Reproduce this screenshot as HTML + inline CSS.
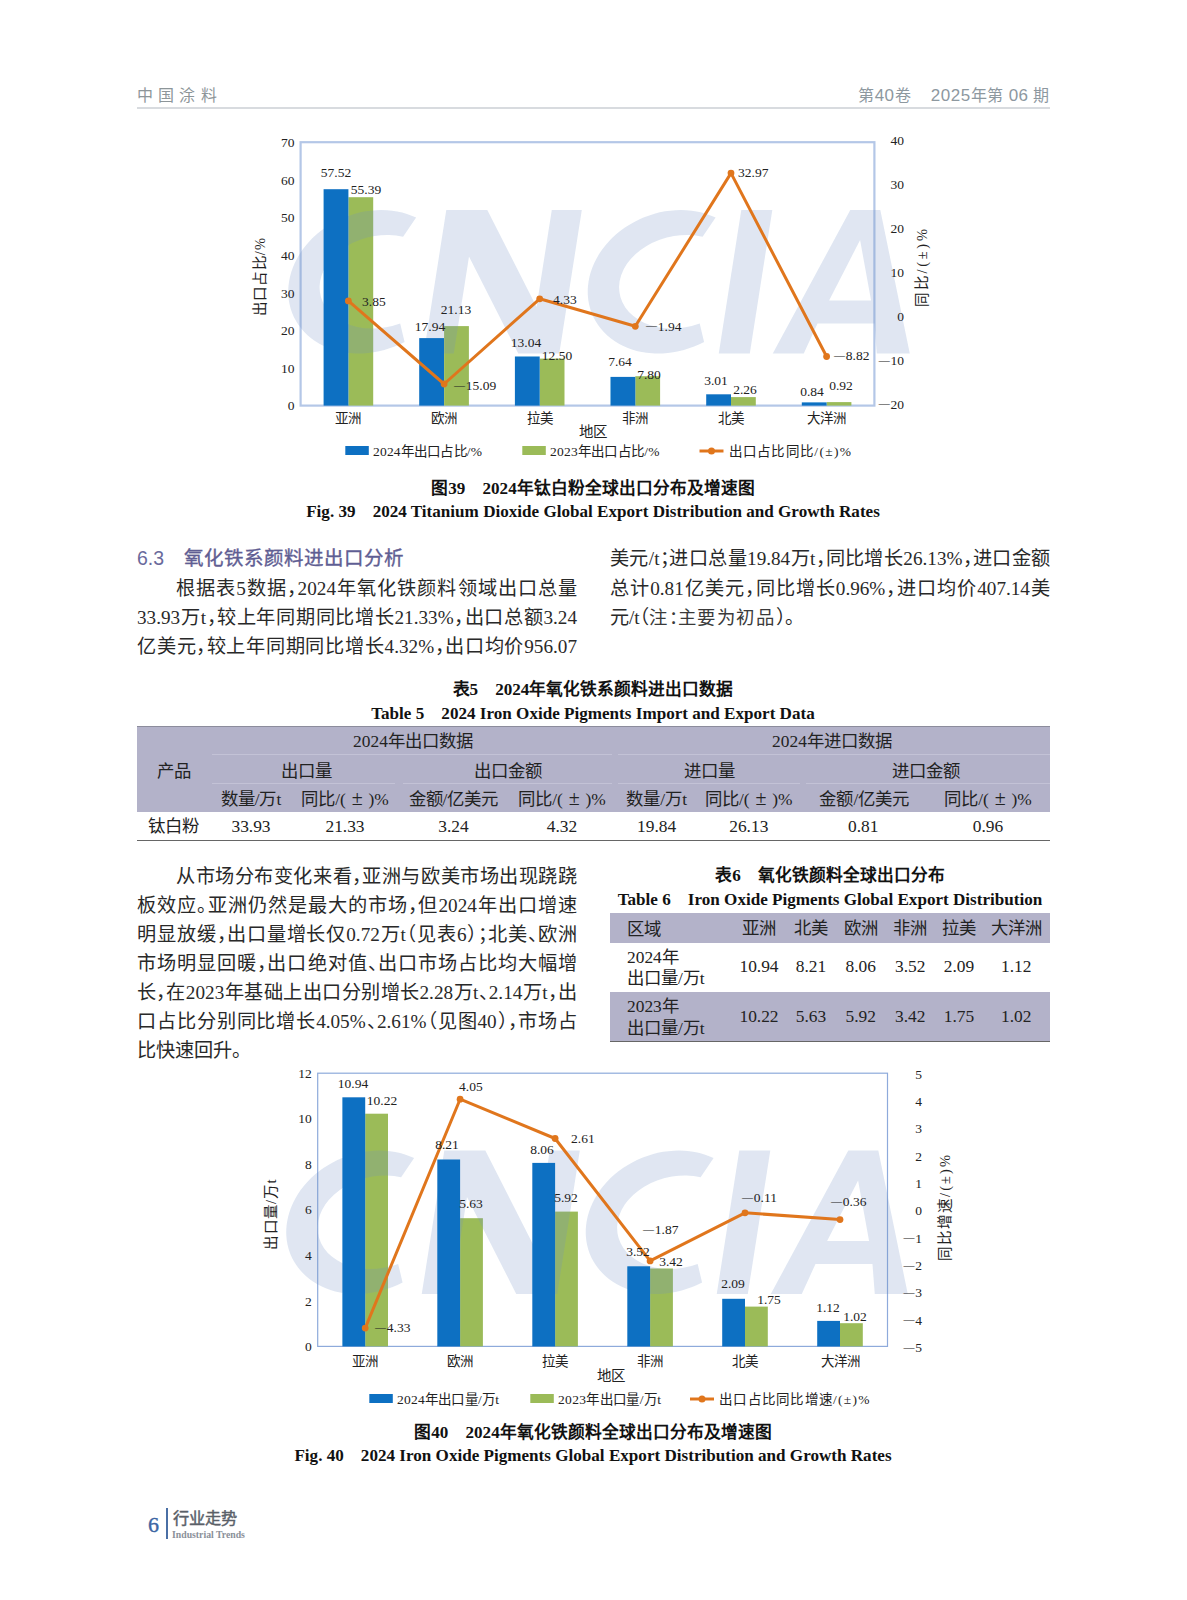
<!DOCTYPE html>
<html lang="zh-CN"><head><meta charset="utf-8"><title>page</title><style>
html,body{margin:0;padding:0;background:#fff;}
body{text-spacing-trim:space-all;width:1187px;height:1600px;position:relative;overflow:hidden;font-family:"Liberation Serif", serif;color:#1a1a1a;}
.t{position:absolute;white-space:nowrap;}
.j{position:absolute;white-space:nowrap;text-align:justify;text-align-last:justify;}
.body{font-size:19.2px;line-height:28px;color:#292929;}
.cap{font-weight:bold;font-size:17.1px;line-height:22px;color:#111;text-align:center;}
.capc{font-family:"Liberation Sans", sans-serif;font-weight:bold;font-size:16.7px;}
.hp{letter-spacing:-0.5em;}
.hl{margin-left:-0.5em;}
.tb{font-size:17.4px;line-height:24px;color:#222;text-align:center;transform:translateX(-50%);}
.tbl{font-size:17.4px;line-height:24px;color:#222;}
svg text{font-family:"Liberation Serif", serif;}
</style></head><body>
<div class="t" style="left:137px;top:84px;font-family:'Liberation Sans', sans-serif;font-size:16px;line-height:24px;letter-spacing:5.2px;color:#8d9599;">中国涂料</div>
<div class="t" style="right:137px;top:84px;font-family:'Liberation Sans', sans-serif;font-size:16px;line-height:24px;color:#8d989f;text-align:right;letter-spacing:0.5px;">第<span style="font-size:17px">40</span>卷&nbsp;&nbsp;&nbsp;&nbsp;<span style="font-size:17px">2025</span>年第 <span style="font-size:17px">06</span> 期</div>
<div style="position:absolute;left:137px;top:107.2px;width:913px;height:1.6px;background:#d8dbdf;"></div>
<div class="t cap" style="left:193.0px;top:477.6px;width:800px;"><span class="capc">图</span>39&nbsp;&nbsp;&nbsp;&nbsp;2024<span class="capc">年钛白粉全球出口分布及增速图</span></div>
<div class="t cap" style="left:193.0px;top:500.8px;width:800px;">Fig. 39&nbsp;&nbsp;&nbsp;&nbsp;2024 Titanium Dioxide Global Export Distribution and Growth Rates</div>
<div class="t " style="left:137.0px;top:544.0px;font-family:'Liberation Sans', sans-serif;font-size:19.5px;line-height:28px;color:#5f5e93;"><span style="font-size:19.5px;color:#6a6a9c">6.3</span><span style="margin-left:20px;-webkit-text-stroke:0.35px #5f5e93;">氧化铁系颜料进出口分析</span></div>
<div class="j body" style="left:176.0px;top:574.6px;width:401.0px;">根据表5数据<span class="hp">，</span>2024年氧化铁颜料领域出口总量</div>
<div class="j body" style="left:137.0px;top:603.5px;width:440.0px;">33.93万t<span class="hp">，</span>较上年同期同比增长21.33%<span class="hp">，</span>出口总额3.24</div>
<div class="j body" style="left:137.0px;top:632.5px;width:440.0px;">亿美元<span class="hp">，</span>较上年同期同比增长4.32%<span class="hp">，</span>出口均价956.07</div>
<div class="j body" style="left:610.0px;top:544.6px;width:440.0px;">美元/t<span class="hp">；</span>进口总量19.84万t<span class="hp">，</span>同比增长26.13%<span class="hp">，</span>进口金额</div>
<div class="j body" style="left:610.0px;top:574.7px;width:440.0px;">总计0.81亿美元<span class="hp">，</span>同比增长0.96%<span class="hp">，</span>进口均价407.14美</div>
<div class="t body" style="left:610.0px;top:603.7px;">元/t<span class="hl">（</span><span style="letter-spacing:1.6px;font-size:18.4px;color:#3a3a3a">注<span class="hp">：</span>主要为初品</span><span class="hp">）</span><span class="hp">。</span></div>
<div class="t cap" style="left:193.0px;top:678.6px;width:800px;"><span class="capc">表</span>5&nbsp;&nbsp;&nbsp;&nbsp;2024<span class="capc">年氧化铁系颜料进出口数据</span></div>
<div class="t cap" style="left:193.0px;top:702.8px;width:800px;">Table 5&nbsp;&nbsp;&nbsp;&nbsp;2024 Iron Oxide Pigments Import and Export Data</div>
<div style="position:absolute;left:137px;top:726px;width:913px;height:86px;background:#b3b2c9;border-top:1px solid #8c8c9c;box-sizing:border-box;"></div>
<div style="position:absolute;left:212.0px;top:754.0px;width:400.0px;height:1.1px;background:#c3c2d6;"></div>
<div style="position:absolute;left:618.0px;top:754.0px;width:432.0px;height:1.1px;background:#c3c2d6;"></div>
<div style="position:absolute;left:212.0px;top:782.5px;width:183.0px;height:1.1px;background:#c3c2d6;"></div>
<div style="position:absolute;left:403.0px;top:782.5px;width:209.0px;height:1.1px;background:#c3c2d6;"></div>
<div style="position:absolute;left:618.0px;top:782.5px;width:182.0px;height:1.1px;background:#c3c2d6;"></div>
<div style="position:absolute;left:806.0px;top:782.5px;width:244.0px;height:1.1px;background:#c3c2d6;"></div>
<div style="position:absolute;left:137.0px;top:839.5px;width:913.0px;height:1.0px;background:#666;"></div>
<div class="t tb" style="left:174.0px;top:758.6px;">产品</div>
<div class="t tb" style="left:413.0px;top:729.3px;">2024年出口数据</div>
<div class="t tb" style="left:832.0px;top:729.3px;">2024年进口数据</div>
<div class="t tb" style="left:306.0px;top:758.6px;">出口量</div>
<div class="t tb" style="left:508.0px;top:758.6px;">出口金额</div>
<div class="t tb" style="left:709.0px;top:758.6px;">进口量</div>
<div class="t tb" style="left:925.7px;top:758.6px;">进口金额</div>
<div class="t tb" style="left:251.0px;top:786.7px;">数量/万t</div>
<div class="t tb" style="left:345.0px;top:786.7px;">同比/(<span style="display:inline-block;width:1.3em;text-align:center;"><span style="font-size:1.15em;line-height:1;">±</span></span>)%</div>
<div class="t tb" style="left:453.5px;top:786.7px;">金额/亿美元</div>
<div class="t tb" style="left:562.0px;top:786.7px;">同比/(<span style="display:inline-block;width:1.3em;text-align:center;"><span style="font-size:1.15em;line-height:1;">±</span></span>)%</div>
<div class="t tb" style="left:656.7px;top:786.7px;">数量/万t</div>
<div class="t tb" style="left:748.8px;top:786.7px;">同比/(<span style="display:inline-block;width:1.3em;text-align:center;"><span style="font-size:1.15em;line-height:1;">±</span></span>)%</div>
<div class="t tb" style="left:864.3px;top:786.7px;">金额/亿美元</div>
<div class="t tb" style="left:988.0px;top:786.7px;">同比/(<span style="display:inline-block;width:1.3em;text-align:center;"><span style="font-size:1.15em;line-height:1;">±</span></span>)%</div>
<div class="t tb" style="left:173.4px;top:814.3px;">钛白粉</div>
<div class="t tb" style="left:251.0px;top:814.3px;">33.93</div>
<div class="t tb" style="left:345.0px;top:814.3px;">21.33</div>
<div class="t tb" style="left:453.5px;top:814.3px;">3.24</div>
<div class="t tb" style="left:562.0px;top:814.3px;">4.32</div>
<div class="t tb" style="left:656.7px;top:814.3px;">19.84</div>
<div class="t tb" style="left:748.8px;top:814.3px;">26.13</div>
<div class="t tb" style="left:863.3px;top:814.3px;">0.81</div>
<div class="t tb" style="left:988.0px;top:814.3px;">0.96</div>
<div class="j body" style="left:176.0px;top:862.7px;width:401.0px;">从市场分布变化来看<span class="hp">，</span>亚洲与欧美市场出现跷跷</div>
<div class="j body" style="left:137.0px;top:891.7px;width:440.0px;">板效应<span class="hp">。</span>亚洲仍然是最大的市场<span class="hp">，</span>但2024年出口增速</div>
<div class="j body" style="left:137.0px;top:920.7px;width:440.0px;">明显放缓<span class="hp">，</span>出口量增长仅0.72万t<span class="hl">（</span>见表6<span class="hp">）</span><span class="hp">；</span>北美<span class="hp">、</span>欧洲</div>
<div class="j body" style="left:137.0px;top:949.7px;width:440.0px;">市场明显回暖<span class="hp">，</span>出口绝对值<span class="hp">、</span>出口市场占比均大幅增</div>
<div class="j body" style="left:137.0px;top:978.7px;width:440.0px;">长<span class="hp">，</span>在2023年基础上出口分别增长2.28万t<span class="hp">、</span>2.14万t<span class="hp">，</span>出</div>
<div class="j body" style="left:137.0px;top:1007.7px;width:440.0px;">口占比分别同比增长4.05%<span class="hp">、</span>2.61%<span class="hl">（</span>见图40<span class="hp">）</span><span class="hp">，</span>市场占</div>
<div class="t body" style="left:137.0px;top:1036.7px;">比快速回升<span class="hp">。</span></div>
<div class="t cap" style="left:430.0px;top:864.6px;width:800px;"><span class="capc">表</span>6&nbsp;&nbsp;&nbsp;&nbsp;<span class="capc">氧化铁颜料全球出口分布</span></div>
<div class="t cap" style="left:430.0px;top:888.8px;width:800px;">Table 6&nbsp;&nbsp;&nbsp;&nbsp;Iron Oxide Pigments Global Export Distribution</div>
<div style="position:absolute;left:610px;top:913px;width:440px;height:29.5px;background:#b3b2c9;"></div>
<div style="position:absolute;left:610px;top:992px;width:440px;height:48.5px;background:#b3b2c9;"></div>
<div style="position:absolute;left:610.0px;top:1040.5px;width:440.0px;height:1.0px;background:#666;"></div>
<div class="t tbl" style="left:627.0px;top:916.5px;">区域</div>
<div class="t tb" style="left:759.0px;top:915.9px;">亚洲</div>
<div class="t tb" style="left:811.0px;top:915.9px;">北美</div>
<div class="t tb" style="left:860.7px;top:915.9px;">欧洲</div>
<div class="t tb" style="left:910.3px;top:915.9px;">非洲</div>
<div class="t tb" style="left:959.0px;top:915.9px;">拉美</div>
<div class="t tb" style="left:1016.2px;top:915.9px;">大洋洲</div>
<div class="t tbl" style="left:627.0px;top:945.0px;">2024年</div>
<div class="t tbl" style="left:627.0px;top:966.0px;">出口量/万t</div>
<div class="t tb" style="left:759.0px;top:953.7px;">10.94</div>
<div class="t tb" style="left:811.0px;top:953.7px;">8.21</div>
<div class="t tb" style="left:860.7px;top:953.7px;">8.06</div>
<div class="t tb" style="left:910.3px;top:953.7px;">3.52</div>
<div class="t tb" style="left:959.0px;top:953.7px;">2.09</div>
<div class="t tb" style="left:1016.2px;top:953.7px;">1.12</div>
<div class="t tbl" style="left:627.0px;top:994.2px;">2023年</div>
<div class="t tbl" style="left:627.0px;top:1015.7px;">出口量/万t</div>
<div class="t tb" style="left:759.0px;top:1004.4px;">10.22</div>
<div class="t tb" style="left:811.0px;top:1004.4px;">5.63</div>
<div class="t tb" style="left:860.7px;top:1004.4px;">5.92</div>
<div class="t tb" style="left:910.3px;top:1004.4px;">3.42</div>
<div class="t tb" style="left:959.0px;top:1004.4px;">1.75</div>
<div class="t tb" style="left:1016.2px;top:1004.4px;">1.02</div>
<div class="t cap" style="left:193.0px;top:1421.6px;width:800px;"><span class="capc">图</span>40&nbsp;&nbsp;&nbsp;&nbsp;2024<span class="capc">年氧化铁颜料全球出口分布及增速图</span></div>
<div class="t cap" style="left:193.0px;top:1444.8px;width:800px;">Fig. 40&nbsp;&nbsp;&nbsp;&nbsp;2024 Iron Oxide Pigments Global Export Distribution and Growth Rates</div>
<div class="t " style="left:148.0px;top:1510.5px;font-size:22px;line-height:28px;color:#3d66a3;-webkit-text-stroke:0.4px #3d66a3;">6</div>
<div style="position:absolute;left:165.5px;top:1508px;width:2px;height:31px;background:#4a6fa5;"></div>
<div class="t " style="left:172.5px;top:1508.0px;font-family:'Liberation Sans', sans-serif;font-size:16.2px;line-height:20px;color:#5a6068;-webkit-text-stroke:0.45px #5a6068;">行业走势</div>
<div class="t " style="left:172.0px;top:1528.5px;font-size:9.75px;line-height:12px;font-weight:bold;color:#8a9099;">Industrial Trends</div>
<svg width="1187" height="1600" viewBox="0 0 1187 1600" style="position:absolute;left:0;top:0;">
<defs><filter id="bl" x="-5%" y="-5%" width="110%" height="110%"><feGaussianBlur stdDeviation="0.45"/></filter></defs>
<g filter="url(#bl)">
<rect x="300.6" y="142.2" width="573.8" height="263.4" fill="none" stroke="#b4c7e7" stroke-width="2.2"/>
<rect x="348.4" y="197.2" width="24.8" height="208.4" fill="#9bbb59"/>
<rect x="444.1" y="326.1" width="24.8" height="79.5" fill="#9bbb59"/>
<rect x="539.7" y="358.6" width="24.8" height="47.0" fill="#9bbb59"/>
<rect x="635.3" y="376.2" width="24.8" height="29.4" fill="#9bbb59"/>
<rect x="731.0" y="397.1" width="24.8" height="8.5" fill="#9bbb59"/>
<rect x="826.6" y="402.1" width="24.8" height="3.5" fill="#9bbb59"/>
<g transform="translate(277.8,210.0) matrix(1,0,-0.157,1,22.5,0)" fill="#6f8fc4" opacity="0.22" fill-rule="evenodd">
<path d="M117.0 7.5 A81 71.75 0 1 0 125.0 132 L117.7 113.5 A59.8 46.75 0 1 1 107.0 26.75 Z"/><path d="M416.5 7.5 A81 71.75 0 1 0 424.5 132 L417.2 113.5 A59.8 46.75 0 1 1 406.5 26.75 Z"/><path d="M146.0 143.5 L146.0 0.0 L187.0 0.0 L251.5 97.0 L251.5 0.0 L281.5 0.0 L281.5 143.5 L240.5 143.5 L176.0 46.5 L176.0 143.5Z"/><path d="M441.0 0.0 L472.0 0.0 L472.0 143.5 L441.0 143.5Z"/><path d="M495.0 143.5 L550.0 0.0 L580.0 0.0 L632.0 143.5 L599.0 143.5 L592.0 113.5 L535.0 113.5 L526.0 143.5Z M564.5 30.0 L585.0 90.5 L543.0 90.5Z "/>
</g>
<rect x="323.6" y="189.2" width="24.8" height="216.4" fill="#0a70c2"/>
<rect x="419.2" y="338.1" width="24.8" height="67.5" fill="#0a70c2"/>
<rect x="514.9" y="356.5" width="24.8" height="49.1" fill="#0a70c2"/>
<rect x="610.5" y="376.9" width="24.8" height="28.7" fill="#0a70c2"/>
<rect x="706.2" y="394.3" width="24.8" height="11.3" fill="#0a70c2"/>
<rect x="801.8" y="402.4" width="24.8" height="3.2" fill="#0a70c2"/>
<polyline points="348.4,300.9 444.1,384.0 539.7,298.8 635.3,326.3 731.0,173.1 826.6,356.5" fill="none" stroke="#e0761f" stroke-width="3" stroke-linejoin="round" stroke-linecap="round"/>
<circle cx="348.4" cy="300.9" r="3.4" fill="#e0761f"/>
<circle cx="444.1" cy="384.0" r="3.4" fill="#e0761f"/>
<circle cx="539.7" cy="298.8" r="3.4" fill="#e0761f"/>
<circle cx="635.3" cy="326.3" r="3.4" fill="#e0761f"/>
<circle cx="731.0" cy="173.1" r="3.4" fill="#e0761f"/>
<circle cx="826.6" cy="356.5" r="3.4" fill="#e0761f"/>
</g>
<text x="294.6" y="410.4" font-size="13.5" text-anchor="end" fill="#222">0</text>
<text x="294.6" y="372.8" font-size="13.5" text-anchor="end" fill="#222">10</text>
<text x="294.6" y="335.1" font-size="13.5" text-anchor="end" fill="#222">20</text>
<text x="294.6" y="297.5" font-size="13.5" text-anchor="end" fill="#222">30</text>
<text x="294.6" y="259.9" font-size="13.5" text-anchor="end" fill="#222">40</text>
<text x="294.6" y="222.3" font-size="13.5" text-anchor="end" fill="#222">50</text>
<text x="294.6" y="184.6" font-size="13.5" text-anchor="end" fill="#222">60</text>
<text x="294.6" y="147.0" font-size="13.5" text-anchor="end" fill="#222">70</text>
<text x="904.0" y="145.3" font-size="13.5" text-anchor="end" fill="#222">40</text>
<text x="904.0" y="189.2" font-size="13.5" text-anchor="end" fill="#222">30</text>
<text x="904.0" y="233.1" font-size="13.5" text-anchor="end" fill="#222">20</text>
<text x="904.0" y="277.0" font-size="13.5" text-anchor="end" fill="#222">10</text>
<text x="904.0" y="320.9" font-size="13.5" text-anchor="end" fill="#222">0</text>
<text x="904.0" y="364.8" font-size="13.5" text-anchor="end" fill="#222"><tspan font-size="11" dy="-1.3">—</tspan><tspan dy="1.3" dx="0.8">10</tspan></text>
<text x="904.0" y="408.7" font-size="13.5" text-anchor="end" fill="#222"><tspan font-size="11" dy="-1.3">—</tspan><tspan dy="1.3" dx="0.8">20</tspan></text>
<text x="348.4" y="423.1" font-size="13.5" text-anchor="middle" fill="#222">亚洲</text>
<text x="444.1" y="423.1" font-size="13.5" text-anchor="middle" fill="#222">欧洲</text>
<text x="539.7" y="423.1" font-size="13.5" text-anchor="middle" fill="#222">拉美</text>
<text x="635.3" y="423.1" font-size="13.5" text-anchor="middle" fill="#222">非洲</text>
<text x="731.0" y="423.1" font-size="13.5" text-anchor="middle" fill="#222">北美</text>
<text x="826.6" y="423.1" font-size="13.5" text-anchor="middle" fill="#222">大洋洲</text>
<text x="593.0" y="437.0" font-size="14.5" text-anchor="middle" fill="#222">地区</text>
<text transform="translate(265.0,277.0) rotate(-90)" font-size="14.5" text-anchor="middle" fill="#222" textLength="78">出口占比/%</text>
<text transform="translate(927.0,268.0) rotate(-90)" font-size="14.5" text-anchor="middle" fill="#222" textLength="78">同比/(±)%</text>
<text x="336.0" y="177.0" font-size="13.5" text-anchor="middle" fill="#222">57.52</text>
<text x="366.0" y="194.0" font-size="13.5" text-anchor="middle" fill="#222">55.39</text>
<text x="430.0" y="330.5" font-size="13.5" text-anchor="middle" fill="#222">17.94</text>
<text x="456.0" y="314.0" font-size="13.5" text-anchor="middle" fill="#222">21.13</text>
<text x="526.0" y="346.5" font-size="13.5" text-anchor="middle" fill="#222">13.04</text>
<text x="557.0" y="360.0" font-size="13.5" text-anchor="middle" fill="#222">12.50</text>
<text x="620.0" y="366.0" font-size="13.5" text-anchor="middle" fill="#222">7.64</text>
<text x="649.0" y="379.0" font-size="13.5" text-anchor="middle" fill="#222">7.80</text>
<text x="716.0" y="385.0" font-size="13.5" text-anchor="middle" fill="#222">3.01</text>
<text x="745.0" y="394.0" font-size="13.5" text-anchor="middle" fill="#222">2.26</text>
<text x="812.0" y="396.0" font-size="13.5" text-anchor="middle" fill="#222">0.84</text>
<text x="841.0" y="390.0" font-size="13.5" text-anchor="middle" fill="#222">0.92</text>
<text x="362.0" y="306.0" font-size="13.5" text-anchor="start" fill="#222">3.85</text>
<text x="454.0" y="390.0" font-size="13.5" text-anchor="start" fill="#222"><tspan font-size="11" dy="-1.3">—</tspan><tspan dy="1.3" dx="0.8">15.09</tspan></text>
<text x="553.0" y="303.5" font-size="13.5" text-anchor="start" fill="#222">4.33</text>
<text x="646.0" y="330.5" font-size="13.5" text-anchor="start" fill="#222"><tspan font-size="11" dy="-1.3">—</tspan><tspan dy="1.3" dx="0.8">1.94</tspan></text>
<text x="738.0" y="177.0" font-size="13.5" text-anchor="start" fill="#222">32.97</text>
<text x="834.0" y="360.0" font-size="13.5" text-anchor="start" fill="#222"><tspan font-size="11" dy="-1.3">—</tspan><tspan dy="1.3" dx="0.8">8.82</tspan></text>
<rect x="345.3" y="446.0" width="23.5" height="9" fill="#0a70c2" filter="url(#bl)"/>
<text x="373.0" y="455.6" font-size="13.5" fill="#222" textLength="109">2024年出口占比/%</text>
<rect x="522.3" y="446.0" width="23.5" height="9" fill="#9bbb59" filter="url(#bl)"/>
<text x="550.0" y="455.6" font-size="13.5" fill="#222" textLength="109.5">2023年出口占比/%</text>
<g filter="url(#bl)"><line x1="699.5" y1="451.0" x2="723.5" y2="451.0" stroke="#e0761f" stroke-width="3"/><circle cx="711.5" cy="451.0" r="3.5" fill="#e0761f"/></g>
<text x="728.5" y="455.6" font-size="13.5" fill="#222" textLength="122.5">出口占比同比/(±)%</text>
<g filter="url(#bl)">
<rect x="317.7" y="1073.2" width="569.8" height="273.2" fill="none" stroke="#8eaadb" stroke-width="1.2"/>
<rect x="365.2" y="1113.7" width="22.8" height="232.7" fill="#9bbb59"/>
<rect x="460.1" y="1218.2" width="22.8" height="128.2" fill="#9bbb59"/>
<rect x="555.1" y="1211.6" width="22.8" height="134.8" fill="#9bbb59"/>
<rect x="650.1" y="1268.5" width="22.8" height="77.9" fill="#9bbb59"/>
<rect x="745.0" y="1306.6" width="22.8" height="39.8" fill="#9bbb59"/>
<rect x="840.0" y="1323.2" width="22.8" height="23.2" fill="#9bbb59"/>
<g transform="translate(275.8,1150.5) matrix(1,0,-0.157,1,22.5,0)" fill="#6f8fc4" opacity="0.22" fill-rule="evenodd">
<path d="M117.0 7.5 A81 71.75 0 1 0 125.0 132 L117.7 113.5 A59.8 46.75 0 1 1 107.0 26.75 Z"/><path d="M416.5 7.5 A81 71.75 0 1 0 424.5 132 L417.2 113.5 A59.8 46.75 0 1 1 406.5 26.75 Z"/><path d="M146.0 143.5 L146.0 0.0 L187.0 0.0 L251.5 97.0 L251.5 0.0 L281.5 0.0 L281.5 143.5 L240.5 143.5 L176.0 46.5 L176.0 143.5Z"/><path d="M441.0 0.0 L472.0 0.0 L472.0 143.5 L441.0 143.5Z"/><path d="M495.0 143.5 L550.0 0.0 L580.0 0.0 L632.0 143.5 L599.0 143.5 L592.0 113.5 L535.0 113.5 L526.0 143.5Z M564.5 30.0 L585.0 90.5 L543.0 90.5Z "/>
</g>
<rect x="342.4" y="1097.3" width="22.8" height="249.1" fill="#0a70c2"/>
<rect x="437.3" y="1159.5" width="22.8" height="186.9" fill="#0a70c2"/>
<rect x="532.3" y="1162.9" width="22.8" height="183.5" fill="#0a70c2"/>
<rect x="627.3" y="1266.3" width="22.8" height="80.1" fill="#0a70c2"/>
<rect x="722.2" y="1298.8" width="22.8" height="47.6" fill="#0a70c2"/>
<rect x="817.2" y="1320.9" width="22.8" height="25.5" fill="#0a70c2"/>
<polyline points="365.2,1328.1 460.1,1099.2 555.1,1138.5 650.1,1260.9 745.0,1212.8 840.0,1219.6" fill="none" stroke="#e0761f" stroke-width="3" stroke-linejoin="round" stroke-linecap="round"/>
<circle cx="365.2" cy="1328.1" r="3.4" fill="#e0761f"/>
<circle cx="460.1" cy="1099.2" r="3.4" fill="#e0761f"/>
<circle cx="555.1" cy="1138.5" r="3.4" fill="#e0761f"/>
<circle cx="650.1" cy="1260.9" r="3.4" fill="#e0761f"/>
<circle cx="745.0" cy="1212.8" r="3.4" fill="#e0761f"/>
<circle cx="840.0" cy="1219.6" r="3.4" fill="#e0761f"/>
</g>
<text x="311.7" y="1351.0" font-size="13.5" text-anchor="end" fill="#222">0</text>
<text x="311.7" y="1305.5" font-size="13.5" text-anchor="end" fill="#222">2</text>
<text x="311.7" y="1259.9" font-size="13.5" text-anchor="end" fill="#222">4</text>
<text x="311.7" y="1214.4" font-size="13.5" text-anchor="end" fill="#222">6</text>
<text x="311.7" y="1168.9" font-size="13.5" text-anchor="end" fill="#222">8</text>
<text x="311.7" y="1123.3" font-size="13.5" text-anchor="end" fill="#222">10</text>
<text x="311.7" y="1077.8" font-size="13.5" text-anchor="end" fill="#222">12</text>
<text x="922.0" y="1078.8" font-size="13.5" text-anchor="end" fill="#222">5</text>
<text x="922.0" y="1106.1" font-size="13.5" text-anchor="end" fill="#222">4</text>
<text x="922.0" y="1133.4" font-size="13.5" text-anchor="end" fill="#222">3</text>
<text x="922.0" y="1160.8" font-size="13.5" text-anchor="end" fill="#222">2</text>
<text x="922.0" y="1188.1" font-size="13.5" text-anchor="end" fill="#222">1</text>
<text x="922.0" y="1215.4" font-size="13.5" text-anchor="end" fill="#222">0</text>
<text x="922.0" y="1242.7" font-size="13.5" text-anchor="end" fill="#222"><tspan font-size="11" dy="-1.3">—</tspan><tspan dy="1.3" dx="0.8">1</tspan></text>
<text x="922.0" y="1270.0" font-size="13.5" text-anchor="end" fill="#222"><tspan font-size="11" dy="-1.3">—</tspan><tspan dy="1.3" dx="0.8">2</tspan></text>
<text x="922.0" y="1297.4" font-size="13.5" text-anchor="end" fill="#222"><tspan font-size="11" dy="-1.3">—</tspan><tspan dy="1.3" dx="0.8">3</tspan></text>
<text x="922.0" y="1324.7" font-size="13.5" text-anchor="end" fill="#222"><tspan font-size="11" dy="-1.3">—</tspan><tspan dy="1.3" dx="0.8">4</tspan></text>
<text x="922.0" y="1352.0" font-size="13.5" text-anchor="end" fill="#222"><tspan font-size="11" dy="-1.3">—</tspan><tspan dy="1.3" dx="0.8">5</tspan></text>
<text x="365.2" y="1366.4" font-size="13.5" text-anchor="middle" fill="#222">亚洲</text>
<text x="460.1" y="1366.4" font-size="13.5" text-anchor="middle" fill="#222">欧洲</text>
<text x="555.1" y="1366.4" font-size="13.5" text-anchor="middle" fill="#222">拉美</text>
<text x="650.1" y="1366.4" font-size="13.5" text-anchor="middle" fill="#222">非洲</text>
<text x="745.0" y="1366.4" font-size="13.5" text-anchor="middle" fill="#222">北美</text>
<text x="840.0" y="1366.4" font-size="13.5" text-anchor="middle" fill="#222">大洋洲</text>
<text x="611.0" y="1380.5" font-size="14.5" text-anchor="middle" fill="#222">地区</text>
<text transform="translate(276.0,1214.5) rotate(-90)" font-size="14.5" text-anchor="middle" fill="#222" textLength="70">出口量/万t</text>
<text transform="translate(950.0,1208.0) rotate(-90)" font-size="14.5" text-anchor="middle" fill="#222" textLength="106">同比增速/(±)%</text>
<text x="353.0" y="1088.0" font-size="13.5" text-anchor="middle" fill="#222">10.94</text>
<text x="382.0" y="1105.0" font-size="13.5" text-anchor="middle" fill="#222">10.22</text>
<text x="447.0" y="1149.0" font-size="13.5" text-anchor="middle" fill="#222">8.21</text>
<text x="471.0" y="1208.0" font-size="13.5" text-anchor="middle" fill="#222">5.63</text>
<text x="542.0" y="1154.0" font-size="13.5" text-anchor="middle" fill="#222">8.06</text>
<text x="566.0" y="1202.0" font-size="13.5" text-anchor="middle" fill="#222">5.92</text>
<text x="638.0" y="1256.0" font-size="13.5" text-anchor="middle" fill="#222">3.52</text>
<text x="671.0" y="1266.0" font-size="13.5" text-anchor="middle" fill="#222">3.42</text>
<text x="733.0" y="1288.0" font-size="13.5" text-anchor="middle" fill="#222">2.09</text>
<text x="769.0" y="1304.0" font-size="13.5" text-anchor="middle" fill="#222">1.75</text>
<text x="828.0" y="1312.0" font-size="13.5" text-anchor="middle" fill="#222">1.12</text>
<text x="855.0" y="1321.0" font-size="13.5" text-anchor="middle" fill="#222">1.02</text>
<text x="375.0" y="1332.0" font-size="13.5" text-anchor="start" fill="#222"><tspan font-size="11" dy="-1.3">—</tspan><tspan dy="1.3" dx="0.8">4.33</tspan></text>
<text x="459.0" y="1091.0" font-size="13.5" text-anchor="start" fill="#222">4.05</text>
<text x="571.0" y="1143.0" font-size="13.5" text-anchor="start" fill="#222">2.61</text>
<text x="643.0" y="1234.0" font-size="13.5" text-anchor="start" fill="#222"><tspan font-size="11" dy="-1.3">—</tspan><tspan dy="1.3" dx="0.8">1.87</tspan></text>
<text x="742.0" y="1202.0" font-size="13.5" text-anchor="start" fill="#222"><tspan font-size="11" dy="-1.3">—</tspan><tspan dy="1.3" dx="0.8">0.11</tspan></text>
<text x="831.0" y="1206.0" font-size="13.5" text-anchor="start" fill="#222"><tspan font-size="11" dy="-1.3">—</tspan><tspan dy="1.3" dx="0.8">0.36</tspan></text>
<rect x="369.3" y="1394.0" width="23.5" height="9" fill="#0a70c2" filter="url(#bl)"/>
<text x="397.0" y="1403.6" font-size="13.5" fill="#222" textLength="102">2024年出口量/万t</text>
<rect x="530.3" y="1394.0" width="23.5" height="9" fill="#9bbb59" filter="url(#bl)"/>
<text x="558.0" y="1403.6" font-size="13.5" fill="#222" textLength="103">2023年出口量/万t</text>
<g filter="url(#bl)"><line x1="690.0" y1="1399.0" x2="714.0" y2="1399.0" stroke="#e0761f" stroke-width="3"/><circle cx="702.0" cy="1399.0" r="3.5" fill="#e0761f"/></g>
<text x="719.0" y="1403.6" font-size="13.5" fill="#222" textLength="150.5">出口占比同比增速/(±)%</text>
</svg>
</body></html>
